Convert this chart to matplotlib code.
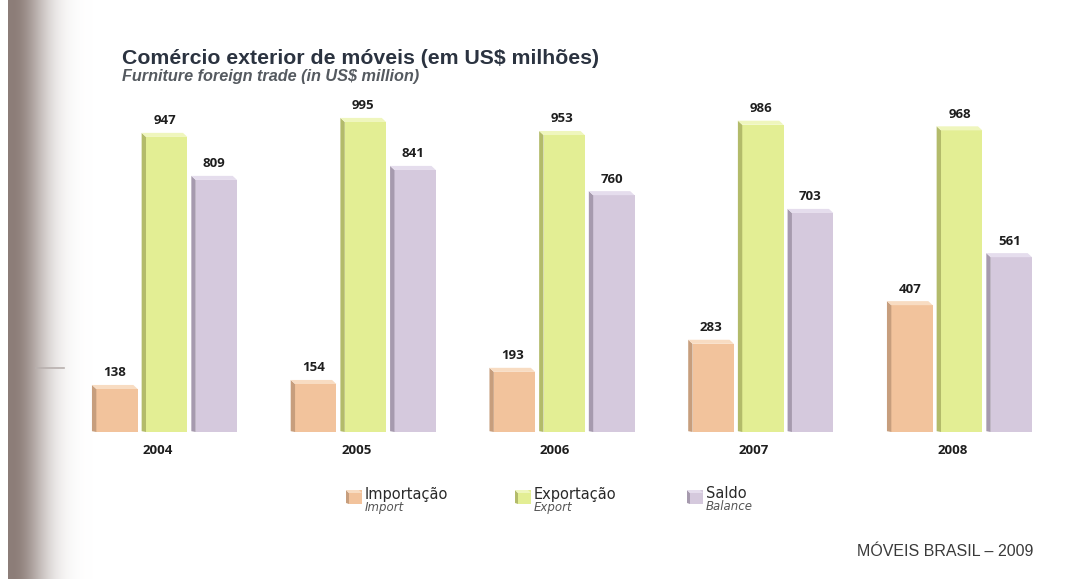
import numpy as np
import matplotlib
matplotlib.use("Agg")
import matplotlib.pyplot as plt
from matplotlib.patches import Polygon, Rectangle

years = ["2004", "2005", "2006", "2007", "2008"]
importacao = [138, 154, 193, 283, 407]
exportacao = [947, 995, 953, 986, 968]
saldo = [809, 841, 760, 703, 561]

series = [
    ("Importação", "Import", importacao, ("#f2c39c", "#c79e7d", "#f8dcc2")),
    ("Exportação", "Export", exportacao, ("#e3ee94", "#b3bb6a", "#eff6bd")),
    ("Saldo", "Balance", saldo, ("#d5c9dd", "#a69aae", "#e5dded")),
]

W, H = 1088, 579
fig = plt.figure(figsize=(W / 100, H / 100), dpi=100)
fig.patch.set_facecolor("white")


def fx(x):
    return x / W


def fy(y):
    return 1 - y / H


# shadow of the page binding down the left edge
bg = fig.add_axes([0, 0, 1, 1], zorder=-5)
bg.axis("off")
xs = np.arange(W, dtype=float)
shade = np.where(xs < 8, 0.0, np.exp(-((np.clip(xs - 12, 0, None)) / 34.0) ** 2))
dark = np.array([0.55, 0.49, 0.47])
img = np.ones((1, W, 3))
img[0] = 1 - shade[:, None] * (1 - dark)
img = np.round(img * 255).astype(np.uint8)
bg.imshow(img, aspect="auto", extent=[0, 1, 0, 1], interpolation="none")
bg.set_xlim(0, 1)
bg.set_ylim(0, 1)
bg.plot([fx(36), fx(64)], [fy(368), fy(368)], color="#b8b0ae", lw=1.2)

# bars
ax_left, ax_bottom = 45.25, H - 432
ax_w, ax_h = 1033.5, 1100 * 0.3116
ax = fig.add_axes([fx(ax_left), ax_bottom / H, ax_w / W, ax_h / H])
ax.set_xlim(-0.6, 4.6)
ax.set_ylim(0, 1100)
ax.axis("off")

bw = 0.23
step = 0.25
dx = 0.022  # depth to the left
dy = 13     # depth upwards
x = np.arange(len(years))

for k, (pt, en, vals, (front, side, top)) in enumerate(series):
    for i, v in enumerate(vals):
        x0 = x[i] + (k - 1) * step - bw / 2
        x1 = x0 + bw
        ax.bar(x0 + dx, v, width=bw - dx, align="edge", color=front,
               edgecolor="none", zorder=2)
        ax.add_patch(Polygon([(x0, dy * 0.2), (x0 + dx, 0), (x0 + dx, v), (x0, v + dy)],
                             closed=True, facecolor=side, edgecolor="none", zorder=2))
        ax.add_patch(Polygon([(x0 + dx, v), (x1, v), (x1 - dx, v + dy), (x0, v + dy)],
                             closed=True, facecolor=top, edgecolor="none", zorder=2))
        ax.annotate(str(v), (x0 + bw / 2, v + dy), xytext=(0, 4),
                    textcoords="offset points", ha="center", va="bottom",
                    fontsize=9.5, fontweight="bold", family="Open Sans", color="#1e1e1e")

for i, yr in enumerate(years):
    ax.annotate(yr, (x[i] - 0.035, 0), xytext=(0, -13), textcoords="offset points",
                ha="center", va="center", fontsize=9.5, fontweight="bold",
                family="Open Sans", color="#1e1e1e")

# titles
fig.text(fx(122), fy(58), "Comércio exterior de móveis (em US$ milhões)",
         fontsize=15.3, fontweight="bold", family="Liberation Sans",
         color="#2b3340", ha="left", va="center")
fig.text(fx(122), fy(77), "Furniture foreign trade (in US$ million)",
         fontsize=11.7, fontweight="bold", style="italic", family="Liberation Sans",
         color="#555a60", ha="left", va="center")

# legend
legend_x = [346, 515, 687]
for (pt, en, vals, (front, side, top)), lx in zip(series, legend_x):
    sx, sy, sw, sh, d = lx, 490, 16, 14, 3
    fig.add_artist(Rectangle((fx(sx + d), fy(sy + sh)), fx(sw - d), sh / H,
                             facecolor=front, edgecolor="none"))
    fig.add_artist(Polygon([(fx(sx), fy(sy + sh - 1)), (fx(sx + d), fy(sy + sh)),
                            (fx(sx + d), fy(sy + d)), (fx(sx), fy(sy))],
                           closed=True, facecolor=side, edgecolor="none"))
    fig.add_artist(Polygon([(fx(sx), fy(sy)), (fx(sx + sw - d), fy(sy)),
                            (fx(sx + sw), fy(sy + d)), (fx(sx + d), fy(sy + d))],
                           closed=True, facecolor=top, edgecolor="none"))
    fig.text(fx(lx + 19), fy(494), pt, fontsize=10.5, family="DejaVu Sans",
             color="#2a2a2a", ha="left", va="center")
    fig.text(fx(lx + 19), fy(507), en, fontsize=8.5, style="italic",
             family="DejaVu Sans", color="#555555", ha="left", va="center")

fig.text(fx(1033), fy(552), "MÓVEIS BRASIL – 2009", fontsize=11.5,
         family="Liberation Sans", color="#3a3a3a", ha="right", va="center")

fig.savefig("out.png", dpi=100)
